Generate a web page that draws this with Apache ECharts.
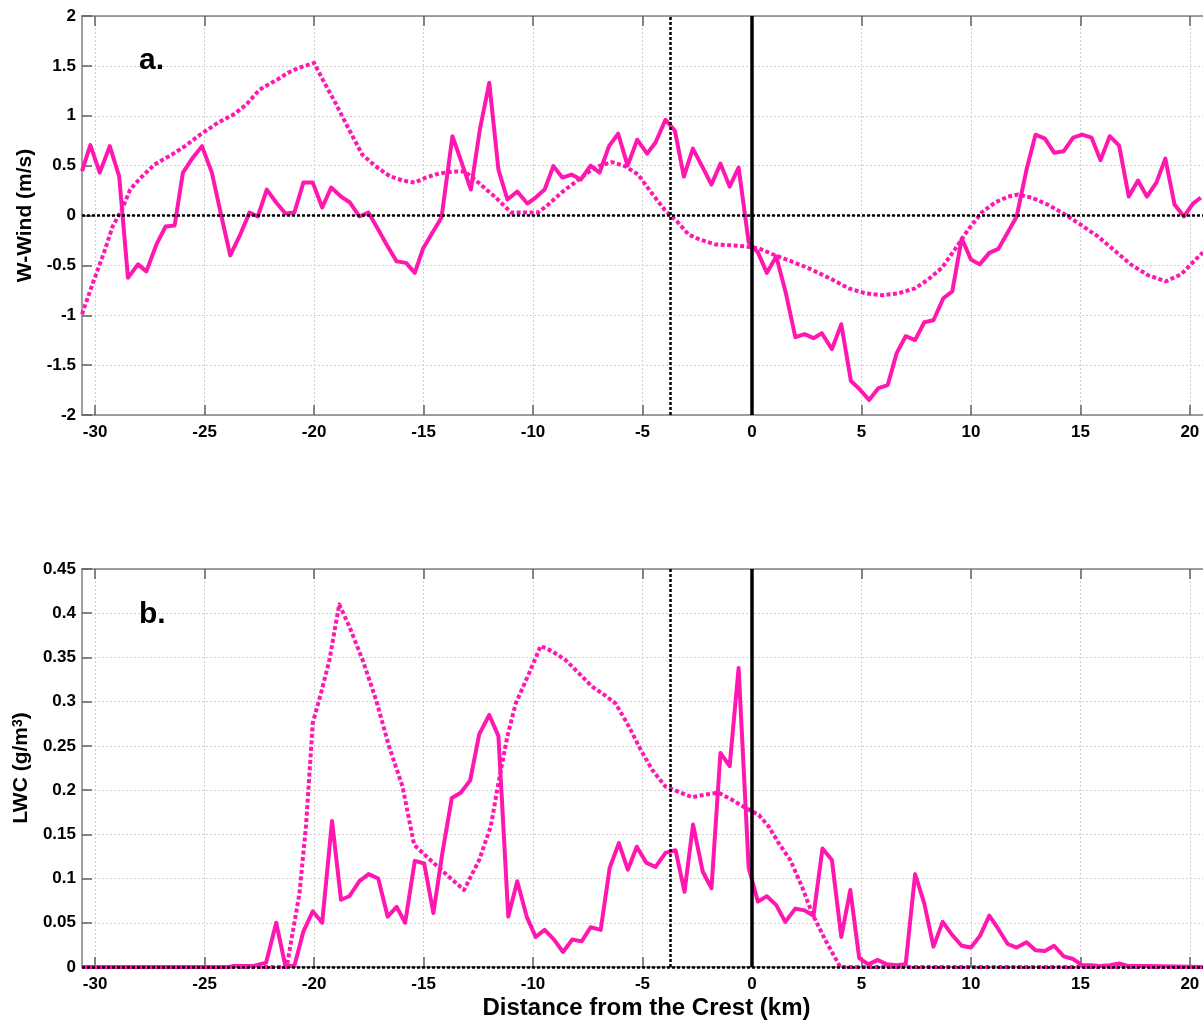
<!DOCTYPE html>
<html><head><meta charset="utf-8">
<script src="https://cdn.jsdelivr.net/npm/echarts@6/dist/echarts.min.js"></script>
<style>html,body{margin:0;padding:0;background:#fff}#c{width:1203px;height:1023px}</style>
</head><body><div id="c"></div>
<script>
// ---- Panel a: W-Wind (m/s) ----
const windObsX = [-30.6,-30.22,-29.79,-29.33,-28.9,-28.5,-28.04,-27.66,-27.2,-26.78,
  -26.37,-25.99,-25.54,-25.12,-24.67,-24.24,-23.83,-23.41,-22.95,-22.57,
  -22.16,-21.73,-21.31,-20.9,-20.49,-20.06,-19.63,-19.22,-18.77,-18.36,
  -17.93,-17.52,-17.07,-16.69,-16.23,-15.8,-15.4,-15.02,-14.59,-14.18,
  -13.68,-13.26,-12.84,-12.43,-12.0,-11.58,-11.17,-10.72,-10.26,-9.88,
  -9.47,-9.07,-8.66,-8.24,-7.82,-7.37,-6.96,-6.53,-6.11,-5.68,
  -5.24,-4.79,-4.41,-3.95,-3.52,-3.11,-2.70,-2.28,-1.85,-1.44,
  -1.02,-0.61,-0.15,0.27,0.68,1.11,1.55,1.98,2.40,2.81,
  3.19,3.65,4.08,4.52,4.91,5.35,5.78,6.20,6.61,7.02,
  7.45,7.87,8.29,8.74,9.15,9.58,10.0,10.4,10.84,11.25,
  11.68,12.09,12.54,12.95,13.38,13.80,14.24,14.67,15.08,15.51,
  15.92,16.34,16.77,17.21,17.63,18.04,18.47,18.88,19.3,19.73,
  20.14,20.5];
const windObs = [0.445,0.705,0.43,0.695,0.39,-0.625,-0.49,-0.56,-0.29,-0.11,
  -0.10,0.43,0.58,0.695,0.43,0.0,-0.40,-0.21,0.03,-0.01,
  0.26,0.13,0.02,0.03,0.33,0.33,0.08,0.28,0.19,0.13,
  -0.01,0.03,-0.14,-0.29,-0.46,-0.475,-0.575,-0.33,-0.17,-0.02,
  0.795,0.53,0.26,0.86,1.33,0.46,0.16,0.24,0.12,0.18,
  0.26,0.495,0.38,0.41,0.36,0.50,0.43,0.695,0.82,0.50,
  0.76,0.62,0.73,0.96,0.85,0.39,0.67,0.495,0.31,0.52,
  0.29,0.48,-0.27,-0.37,-0.575,-0.41,-0.78,-1.22,-1.19,-1.23,
  -1.18,-1.34,-1.09,-1.66,-1.74,-1.85,-1.73,-1.70,-1.38,-1.21,
  -1.25,-1.07,-1.05,-0.83,-0.76,-0.23,-0.44,-0.49,-0.375,-0.335,
  -0.17,-0.01,0.46,0.81,0.77,0.63,0.645,0.78,0.81,0.78,
  0.555,0.795,0.70,0.19,0.35,0.19,0.33,0.57,0.11,-0.01,
  0.12,0.18];
const windModelX = [-30.6,-30.1,-29.6,-29.2,-28.78,-28.4,-28.0,-27.3,-26.5,-25.9,
  -25.2,-24.4,-23.7,-23.1,-22.5,-21.7,-21.2,-20.7,-20.0,-19.6,
  -19.1,-18.4,-17.8,-17.2,-16.55,-15.95,-15.4,-14.9,-14.3,-13.7,
  -13.1,-12.5,-11.7,-11.0,-10.4,-9.77,-9.3,-8.7,-8.1,-7.5,
  -7.0,-6.4,-5.8,-5.2,-4.6,-4.0,-3.42,-2.9,-2.4,-1.67,
  -0.9,-0.3,0.31,1.07,1.8,2.6,3.65,4.41,5.17,5.93,
  6.69,7.45,8.06,8.67,9.27,9.88,10.49,11.1,11.7,12.16,
  12.77,13.5,14.3,15.0,15.8,16.5,17.3,18.1,18.9,19.6,
  20.36,20.6];
const windModel = [-0.99,-0.675,-0.375,-0.11,0.06,0.26,0.36,0.51,0.61,0.695,
  0.81,0.93,1.01,1.11,1.26,1.36,1.43,1.48,1.53,1.36,
  1.16,0.86,0.61,0.495,0.395,0.35,0.33,0.38,0.42,0.44,
  0.44,0.33,0.18,0.03,0.03,0.03,0.11,0.23,0.33,0.43,
  0.495,0.535,0.495,0.41,0.23,0.06,-0.06,-0.19,-0.24,-0.29,
  -0.30,-0.31,-0.33,-0.40,-0.46,-0.53,-0.64,-0.73,-0.78,-0.80,
  -0.78,-0.73,-0.64,-0.525,-0.34,-0.14,0.03,0.13,0.19,0.21,
  0.18,0.11,0.01,-0.09,-0.21,-0.34,-0.49,-0.60,-0.66,-0.59,
  -0.42,-0.37];

// ---- Panel b: LWC (g/m3) ----
const lwcObsX = [-30.6,-23.9,-23.71,-22.8,-22.19,-21.73,-21.31,-20.9,-20.49,-20.06,
  -19.63,-19.18,-18.77,-18.39,-17.93,-17.51,-17.07,-16.64,-16.23,-15.84,
  -15.4,-14.97,-14.55,-14.14,-13.71,-13.3,-12.87,-12.46,-12.0,-11.58,
  -11.13,-10.72,-10.29,-9.88,-9.47,-9.04,-8.63,-8.21,-7.78,-7.37,
  -6.91,-6.5,-6.08,-5.67,-5.26,-4.83,-4.41,-3.95,-3.49,-3.08,
  -2.69,-2.25,-1.85,-1.44,-1.02,-0.61,-0.15,0.27,0.68,1.11,
  1.52,1.98,2.40,2.81,3.22,3.65,4.08,4.49,4.9,5.32,
  5.75,6.16,6.61,7.02,7.45,7.87,8.29,8.71,9.15,9.58,
  10.0,10.41,10.84,11.25,11.68,12.09,12.54,12.95,13.38,13.8,
  14.24,14.67,15.08,15.51,15.92,16.34,16.77,17.2,17.63,18.04,
  20.6];
const lwcObs = [0,0,0.001,0.001,0.005,0.05,0.001,0.001,0.04,0.063,
  0.05,0.165,0.076,0.08,0.097,0.105,0.10,0.057,0.068,0.05,
  0.12,0.117,0.061,0.129,0.191,0.197,0.211,0.263,0.285,0.261,
  0.057,0.097,0.057,0.034,0.042,0.031,0.017,0.031,0.029,0.045,
  0.042,0.112,0.14,0.11,0.136,0.118,0.113,0.129,0.132,0.085,
  0.161,0.108,0.089,0.242,0.227,0.338,0.112,0.074,0.08,0.07,
  0.051,0.066,0.064,0.058,0.134,0.121,0.034,0.087,0.01,0.003,
  0.008,0.003,0.002,0.003,0.105,0.072,0.023,0.051,0.036,0.024,
  0.022,0.035,0.058,0.043,0.026,0.022,0.028,0.019,0.018,0.024,
  0.012,0.009,0.002,0.002,0.001,0.002,0.004,0.001,0.001,0.001,
  0];
const lwcModelX = [-30.6,-21.25,-20.67,-20.37,-20.06,-19.68,-19.3,-18.85,-18.39,-17.78,
  -17.17,-16.57,-15.96,-15.43,-14.6,-13.84,-13.15,-12.46,-11.93,-11.55,
  -11.17,-10.79,-10.18,-9.65,-9.12,-8.51,-7.9,-7.3,-6.76,-6.23,
  -5.62,-5.09,-4.56,-3.95,-3.34,-2.74,-2.13,-1.52,-0.91,-0.3,
  0.31,0.76,1.22,1.75,2.28,2.74,3.34,4.03,20.6];
const lwcModel = [0,0,0.083,0.159,0.276,0.31,0.347,0.41,0.385,0.347,
  0.302,0.249,0.204,0.138,0.119,0.102,0.087,0.121,0.159,0.212,
  0.261,0.298,0.332,0.363,0.357,0.347,0.332,0.317,0.308,0.298,
  0.272,0.246,0.223,0.204,0.198,0.192,0.195,0.197,0.189,0.18,
  0.172,0.159,0.14,0.121,0.091,0.061,0.031,0,0];

// ---- axes / annotations ----
const xTickValues = [-30,-25,-20,-15,-10,-5,0,5,10,15,20];
const crestX = 0;       // solid black vertical line
const refX = -3.72;     // dotted black vertical line
const xMin = -30.6, xMax = 20.6;

const PINK = '#ff17b0';
const FONT = '"Liberation Sans", Arial, sans-serif';
const pairs = (xs, ys) => xs.map((x, i) => [x, ys[i]]);

function xAxisBottom(gridIndex, withName) {
  const ax = {
    type: 'value', gridIndex, position: 'bottom', min: xMin, max: xMax,
    axisLine: { show: true, onZero: false, lineStyle: { color: '#808080', width: 1.5 } },
    axisTick: { show: true, inside: true, length: 10, customValues: xTickValues, lineStyle: { color: '#606060', width: 1.5 } },
    axisLabel: { show: true, customValues: xTickValues, margin: 9, color: '#000', fontSize: 17, fontWeight: 'bold', fontFamily: FONT },
    splitLine: { show: true, lineStyle: { color: '#cfcfcf', type: [2, 2], width: 1 } }
  };
  if (withName) {
    ax.name = 'Distance from the Crest (km)';
    ax.nameLocation = 'middle';
    ax.nameGap = 29;
    ax.nameTextStyle = { color: '#000', fontSize: 24, fontWeight: 'bold', fontFamily: FONT, padding: [0, 0, 0, 8] };
  }
  return ax;
}
function xAxisTop(gridIndex) {
  return {
    type: 'value', gridIndex, position: 'top', min: xMin, max: xMax,
    axisLine: { show: true, onZero: false, lineStyle: { color: '#808080', width: 1.5 } },
    axisTick: { show: true, inside: true, length: 10, customValues: xTickValues, lineStyle: { color: '#606060', width: 1.5 } },
    axisLabel: { show: false },
    splitLine: { show: false }
  };
}
function yAxis(gridIndex, min, max, interval, name, gap) {
  return {
    type: 'value', gridIndex, min, max, interval, name,
    nameLocation: 'middle', nameRotate: 90, nameGap: gap,
    nameTextStyle: {
      color: '#000', fontSize: 21, fontWeight: 'bold', fontFamily: FONT,
      rich: {
        base: { color: '#000', fontSize: 21, fontWeight: 'bold', fontFamily: FONT },
        sup: { color: '#000', fontSize: 14, fontWeight: 'bold', fontFamily: FONT, verticalAlign: 'top', padding: [0, 0, 0, 0] }
      }
    },
    axisLine: { show: true, onZero: false, lineStyle: { color: '#808080', width: 1.5 } },
    axisTick: { show: true, inside: true, length: 10, lineStyle: { color: '#606060', width: 1.5 } },
    axisLabel: { color: '#000', fontSize: 17, fontWeight: 'bold', fontFamily: FONT, margin: 6 },
    splitLine: { show: true, lineStyle: { color: '#cfcfcf', type: [2, 2], width: 1 } }
  };
}
function refLines(xi, yi) {
  return {
    type: 'line', xAxisIndex: xi, yAxisIndex: yi, data: [[refX, 0]],
    showSymbol: false, symbol: 'none', lineStyle: { width: 0, opacity: 0 }, z: 6, silent: true,
    markLine: {
      symbol: 'none', silent: true, animation: false, label: { show: false },
      data: [
        { xAxis: crestX, lineStyle: { type: 'solid', width: 3.5, color: '#000' } },
        { xAxis: refX, lineStyle: { type: [3, 2], width: 2.5, color: '#000' } },
        { yAxis: 0, lineStyle: { type: [3, 2], width: 2.5, color: '#000' } }
      ]
    }
  };
}
function solid(xi, yi, data) {
  return { type: 'line', xAxisIndex: xi, yAxisIndex: yi, data, symbol: 'none', z: 4,
    lineStyle: { color: PINK, width: 4, join: 'round' } };
}
function dotted(xi, yi, data) {
  return { type: 'line', xAxisIndex: xi, yAxisIndex: yi, data, symbol: 'none', z: 4,
    lineStyle: { color: PINK, width: 4, type: [4, 2.5], cap: 'butt', join: 'round' } };
}

const option = {
  animation: false,
  backgroundColor: '#fff',
  title: [
    { text: 'a.', left: 134, top: 41, textStyle: { fontSize: 30, fontWeight: 'bold', color: '#000', fontFamily: FONT } },
    { text: 'b.', left: 134, top: 595, textStyle: { fontSize: 30, fontWeight: 'bold', color: '#000', fontFamily: FONT } }
  ],
  grid: [
    { left: 82, right: -2, top: 16, height: 399 },
    { left: 82, right: -2, top: 569, height: 398 }
  ],
  xAxis: [xAxisBottom(0, false), xAxisTop(0), xAxisBottom(1, true), xAxisTop(1)],
  yAxis: [
    yAxis(0, -2, 2, 0.5, 'W-Wind (m/s)', 44),
    yAxis(1, 0, 0.45, 0.05, '{base|LWC (g/m}{sup|3}{base|)}', 46)
  ],
  series: [
    refLines(0, 0),
    dotted(0, 0, pairs(windModelX, windModel)),
    solid(0, 0, pairs(windObsX, windObs)),
    refLines(2, 1),
    dotted(2, 1, pairs(lwcModelX, lwcModel)),
    solid(2, 1, pairs(lwcObsX, lwcObs))
  ]
};
const chart = echarts.init(document.getElementById('c'), null, { renderer: 'canvas' });
chart.setOption(option);
</script>
</body></html>
